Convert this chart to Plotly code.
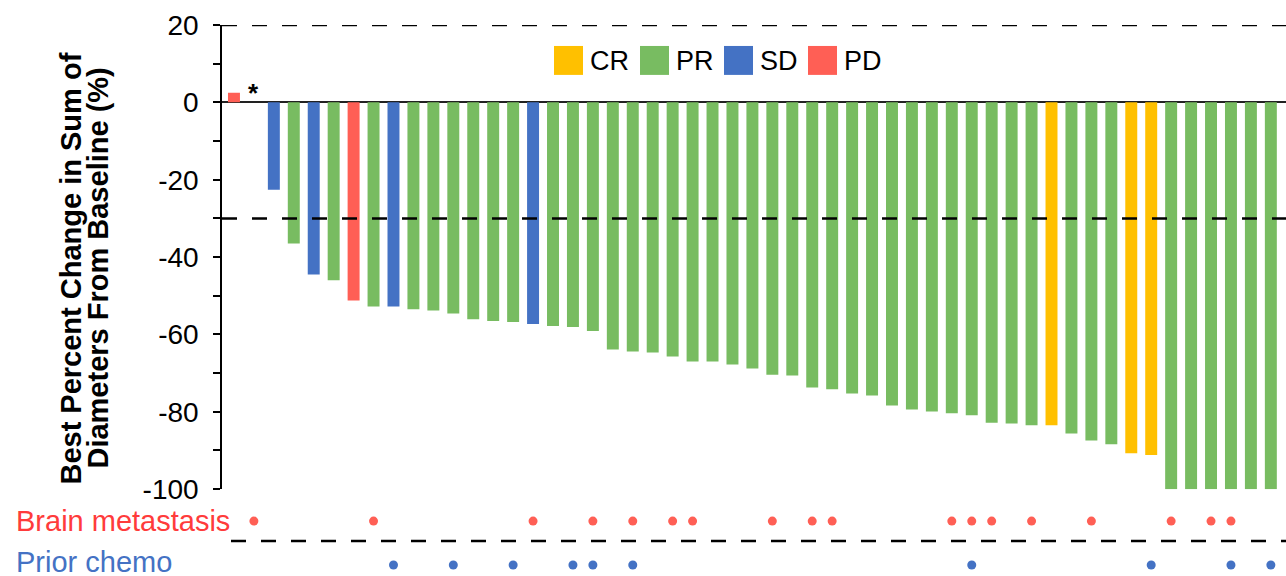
import plotly.graph_objects as go

# ---------------- data ----------------
patients = list(range(1, 54))
best_change = [
    2.5, None, -22.6, -36.5, -44.5, -46.0, -51.2, -52.8, -52.8, -53.5,
    -53.8, -54.6, -56.1, -56.5, -56.8, -57.3, -57.8, -58.1, -59.1, -63.9,
    -64.4, -64.7, -65.7, -67.0, -67.0, -67.8, -68.8, -70.4, -70.6, -73.7,
    -74.2, -75.3, -75.8, -78.4, -79.4, -79.9, -80.4, -80.9, -82.8, -83.0,
    -83.5, -83.5, -85.6, -87.4, -88.4, -90.7, -91.2, -100, -100, -100,
    -100, -100, -100,
]
response = [
    "PD", "NE", "SD", "PR", "SD", "PR", "PD", "PR", "SD", "PR",
    "PR", "PR", "PR", "PR", "PR", "SD", "PR", "PR", "PR", "PR",
    "PR", "PR", "PR", "PR", "PR", "PR", "PR", "PR", "PR", "PR",
    "PR", "PR", "PR", "PR", "PR", "PR", "PR", "PR", "PR", "PR",
    "PR", "CR", "PR", "PR", "PR", "CR", "CR", "PR", "PR", "PR",
    "PR", "PR", "PR",
]
asterisk_patients = [2]
brain_mets_patients = [2, 8, 16, 19, 21, 23, 24, 28, 30, 31, 37, 38, 39, 41, 44, 48, 50, 51]
prior_chemo_patients = [9, 12, 15, 18, 19, 21, 38, 47, 51, 53]

legend_categories = ["CR", "PR", "SD", "PD"]
category_colors = {"CR": "#FFC000", "PR": "#78BC61", "SD": "#4472C4", "PD": "#FF5F55", "NE": "#FFFFFF"}

y_tick_vals = [20, 0, -20, -40, -60, -80, -100]
y_tick_text = ["20", "0", "-20", "-40", "-60", "-80", "-100"]
threshold_lines = [20, -30]
row_labels = ["Brain metastasis", "Prior chemo"]
row_label_colors = ["#FF3B3B", "#4472C4"]
dot_colors = ["#FF5F55", "#4472C4"]

# ---------------- geometry (pixels) ----------------
W, H0 = 1286, 576
SY = 592 / 576          # vertical compensation for page capture
H = round(H0 * SY)
L, R = 222, 0
T, B = 24 * SY, 0
PW, PH = W - L - R, H - T - B


def px_x(p):
    return (p - L) / PW


def px_y(p):
    return (H - B - p * SY) / PH


main_bottom = px_y(489)

FONT = "Liberation Sans, Arial, sans-serif"

fig = go.Figure()

fig.add_trace(go.Bar(
    x=patients, y=best_change,
    marker=dict(color=[category_colors[r] for r in response], line=dict(width=0)),
    width=0.6, showlegend=False, hoverinfo="x+y",
))

fig.add_trace(go.Scatter(
    x=brain_mets_patients, y=[1] * len(brain_mets_patients),
    mode="markers", marker=dict(color=dot_colors[0], size=9),
    xaxis="x2", yaxis="y2", showlegend=False,
))
fig.add_trace(go.Scatter(
    x=prior_chemo_patients, y=[0] * len(prior_chemo_patients),
    mode="markers", marker=dict(color=dot_colors[1], size=9),
    xaxis="x2", yaxis="y2", showlegend=False,
))

x_range = [0.4, 53.76]
y2_range = [-0.25, 1.727]

shapes = []
for yv in threshold_lines:
    shapes.append(dict(type="line", xref="paper", yref="y", x0=0, x1=1, y0=yv, y1=yv,
                       line=dict(color="black", width=2.5, dash="15px,15px")))
shapes.append(dict(type="line", xref="paper", yref="y2", x0=px_x(231), x1=1, y0=0.545, y1=0.545,
                   line=dict(color="black", width=2.5, dash="15px,15px")))

annotations = []
# custom legend
legend_swatch_px = [554, 640, 724, 808]
sw = 29
for cat, xl in zip(legend_categories, legend_swatch_px):
    shapes.append(dict(type="rect", xref="paper", yref="paper",
                       x0=px_x(xl), x1=px_x(xl + sw), y0=px_y(45 + sw), y1=px_y(45),
                       fillcolor=category_colors[cat], line=dict(width=0)))
    annotations.append(dict(text=cat, xref="paper", yref="paper", x=px_x(xl + sw + 5), y=px_y(60),
                            xanchor="left", yanchor="middle", showarrow=False,
                            font=dict(family=FONT, size=27, color="black")))

# asterisk
for p in asterisk_patients:
    annotations.append(dict(text="<b>*</b>", x=p, y=0, xref="x", yref="y", xanchor="center",
                            yanchor="bottom", showarrow=False, yshift=-8,
                            font=dict(family=FONT, size=26, color="black")))

# row labels
row_yshift = [0, 3]
for i, (lab, col) in enumerate(zip(row_labels, row_label_colors)):
    annotations.append(dict(text=lab, xref="paper", yref="y2", x=px_x(14), y=1 - i,
                            xanchor="left", yanchor="middle", showarrow=False, yshift=row_yshift[i],
                            font=dict(family=FONT, size=29, color=col)))

# y title (two lines)
title_lines = ["Best Percent Change in Sum of", "Diameters From Baseline (%)"]
for lab, cx in zip(title_lines, [71, 98]):
    annotations.append(dict(text="<b>" + lab + "</b>", xref="paper", yref="paper",
                            x=px_x(cx), y=px_y(268), textangle=-90,
                            xanchor="center", yanchor="middle", showarrow=False,
                            font=dict(family=FONT, size=29, color="black")))

fig.update_layout(
    width=W, height=H, autosize=False,
    margin=dict(l=L, r=R, t=T, b=B, pad=0),
    paper_bgcolor="white", plot_bgcolor="white",
    bargap=0.4,
    xaxis=dict(range=x_range, visible=False, domain=[0, 1], anchor="y"),
    xaxis2=dict(range=x_range, visible=False, domain=[0, 1], anchor="y2", matches="x"),
    yaxis=dict(
        domain=[main_bottom, 1], range=[-100, 20],
        tickmode="array", tickvals=y_tick_vals, ticktext=y_tick_text,
        ticks="outside", ticklen=7, tickwidth=1.5, tickcolor="black",
        minor=dict(dtick=10, ticks="outside", ticklen=7, tickwidth=1.5, tickcolor="black"),
        showline=True, linecolor="black", linewidth=1.5,
        showgrid=False, zeroline=True, zerolinecolor="#222222", zerolinewidth=2,
        ticklabelstandoff=9,
        tickfont=dict(family=FONT, size=28, color="black"),
    ),
    yaxis2=dict(domain=[0, main_bottom], range=y2_range, visible=False),
    shapes=shapes, annotations=annotations,
)

post = (
    "document.documentElement.style.margin='0px';"
    "document.body.style.margin='0px';"
)

fig.write_html(
    "out.html",
    config={"responsive": False, "displayModeBar": False},
    post_script=post,
)
